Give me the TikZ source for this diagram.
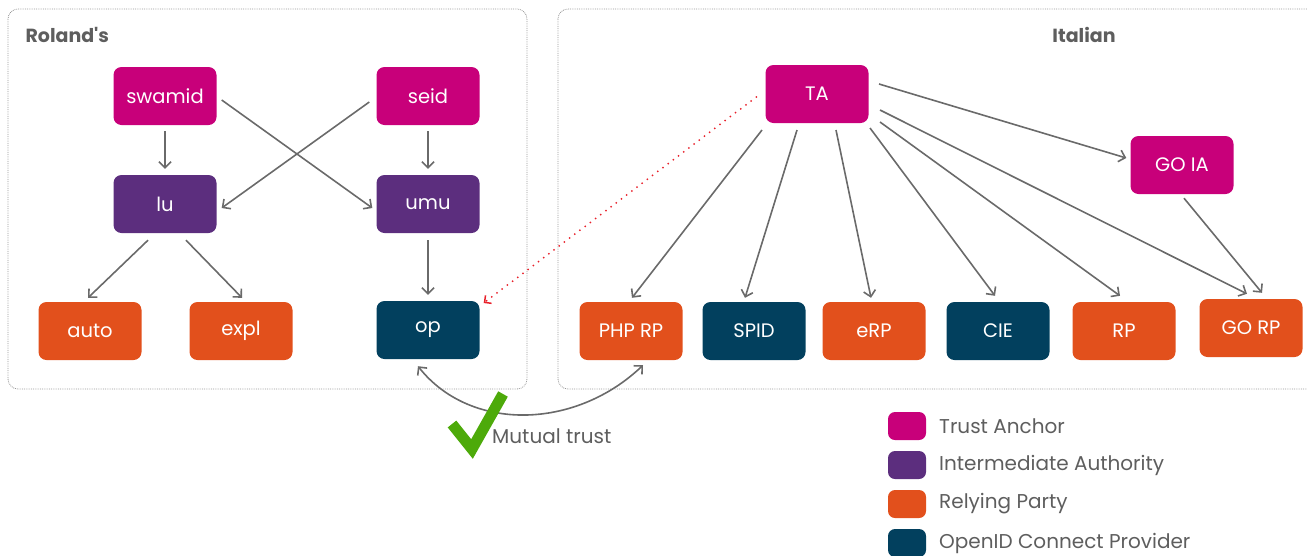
\documentclass[tikz,border=0pt]{standalone}
\usepackage{fontspec}
\setmainfont{Poppins}
\newfontfamily\plainfont{Poppins}
\usetikzlibrary{arrows.meta,calc}
\definecolor{cta}{HTML}{C8007A}
\definecolor{cia}{HTML}{5C2E7E}
\definecolor{crp}{HTML}{E2501C}
\definecolor{cop}{HTML}{02405E}
\definecolor{cln}{HTML}{6A6A6A}
\definecolor{ctx}{HTML}{5E5E5E}
\definecolor{cchk}{HTML}{4DAA0A}
\definecolor{cred}{HTML}{E8202A}
\begin{document}
\begin{tikzpicture}[x=1pt,y=-1pt,
  box/.style={rounded corners=8pt, minimum width=103pt, minimum height=58pt, inner sep=0pt, text=white, font=\fontsize{19.5}{19.5}\selectfont},
  arr/.style={draw=cln, line width=1.6pt, -{Straight Barb[length=6pt,width=12pt]}},
  frame/.style={draw=cln!70, densely dotted, line width=0.8pt, rounded corners=10pt},
  title/.style={text=ctx, font=\plainfont\bfseries\fontsize{19}{19}\selectfont},
  leg/.style={rounded corners=7pt, minimum width=38pt, minimum height=28pt, inner sep=0pt},
  legtxt/.style={anchor=west, text=ctx, font=\fontsize{20}{20}\selectfont, inner sep=0pt}]
\useasboundingbox (0,0) rectangle (1307,555);
% frames
\draw[frame] (8,9) rectangle (527,389);
\draw[frame] (558,9) rectangle (1330,389);
\node[title, anchor=west] (troland) at (22,35) {Roland's};
\node[title] (titalian) at (1084,35) {Italian};
% left nodes
\node[box, fill=cta] (swamid) at (165,96) {swamid};
\node[box, fill=cta] (seid) at (428,96) {seid};
\node[box, fill=cia] (lu) at (165,204) {lu};
\node[box, fill=cia] (umu) at (428,204) {umu};
\node[box, fill=crp] (auto) at (90,331) {auto};
\node[box, fill=crp] (expl) at (241,331) {expl};
\node[box, fill=cop] (op) at (428,330) {op};
% right nodes
\node[box, fill=cta] (TA) at (817,94) {TA};
\node[box, fill=cta] (GOIA) at (1182,165) {GO IA};
\node[box, fill=crp] (PHP) at (631,331) {PHP RP};
\node[box, fill=cop] (SPID) at (754,331) {SPID};
\node[box, fill=crp] (eRP) at (874,331) {eRP};
\node[box, fill=cop] (CIE) at (998,331) {CIE};
\node[box, fill=crp] (RP) at (1124,331) {RP};
\node[box, fill=crp] (GORP) at (1251,328) {GO RP};
% left arrows
\draw[arr] ($(swamid.south)+(0,6)$) -- ($(lu.north)+(0,-6)$);
\draw[arr] ($(seid.south)+(0,6)$) -- ($(umu.north)+(0,-6)$);
\draw[arr] ($(swamid.east)+(5,4)$) -- ($(umu.west)+(-4,4)$);
\draw[arr] ($(seid.west)+(-7,6)$) -- ($(lu.east)+(5,4)$);
\draw[arr] ($(lu.south)+(-17,7)$) -- ($(auto.north)+(-2,-4)$);
\draw[arr] ($(lu.south)+(21,7)$) -- ($(expl.north)+(1,-4)$);
\draw[arr] ($(umu.south)+(0,7)$) -- ($(op.north)+(0,-6)$);
% right arrows
\draw[arr] ($(TA)+(-55,36)$) -- ($(PHP.north)+(1,-4)$);
\draw[arr] ($(TA)+(-20,36)$) -- ($(SPID.north)+(-9,-4)$);
\draw[arr] ($(TA)+(19,36)$) -- ($(eRP.north)+(-3,-4)$);
\draw[arr] ($(TA)+(53,34)$) -- ($(CIE.north)+(-3,-6)$);
\draw[arr] ($(TA)+(63,28)$) -- ($(RP.north)+(-4,-6)$);
\draw[arr] ($(TA)+(63,16)$) -- ($(GORP.north)+(-4,-5)$);
\draw[arr] ($(TA)+(62,-10)$) -- ($(GOIA.west)+(-4,-7)$);
\draw[arr] ($(GOIA.south)+(2,4)$) -- ($(GORP.north)+(11,-6)$);
% red dotted
\draw[draw=cred, line width=2pt, line cap=round, dash pattern=on 0pt off 6.5pt, -{Straight Barb[length=5pt,width=10pt,line width=1.5pt,line cap=butt]}]
  ($(TA.west)+(-9,3)$) -- ($(op.east)+(4,-27)$);
% mutual trust
\draw[draw=cln, line width=1.6pt, {Straight Barb[length=6pt,width=12pt]}-{Straight Barb[length=6pt,width=12pt]}]
  ($(op.south)+(-10,7)$) .. controls (470,432) and (575,430) .. ($(PHP.south)+(12,5)$);
\coordinate (c1) at (452,424);
\coordinate (c2) at (472,449);
\coordinate (c3) at (503,394);
\draw[draw=cchk, line width=11pt, line join=miter] (c1) -- (c2) -- (c3);
\node[anchor=west, text=ctx, font=\fontsize{20}{20}\selectfont, inner sep=0pt] (mt) at (492,436) {Mutual trust};
% legend
\node[leg, fill=cta] (l1) at (907,426) {};
\node[legtxt] (t1) at (939,426) {Trust Anchor};
\node[leg, fill=cia] (l2) at (907,465) {};
\node[legtxt] (t2) at (939,465) {Intermediate Authority};
\node[leg, fill=crp] (l3) at (907,504) {};
\node[legtxt] (t3) at (939,504) {Relying Party};
\node[leg, fill=cop] (l4) at (907,543) {};
\node[legtxt] (t4) at (939,543) {OpenID Connect Provider};
\end{tikzpicture}
\end{document}
